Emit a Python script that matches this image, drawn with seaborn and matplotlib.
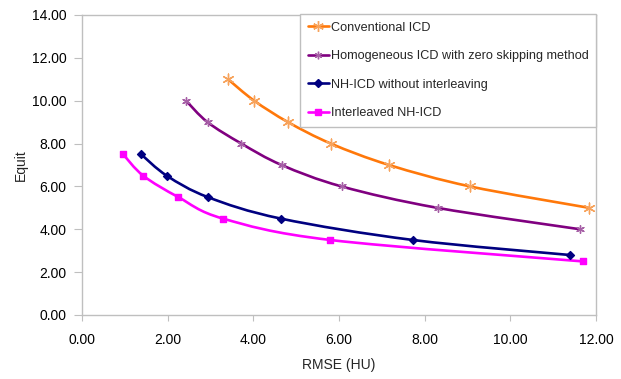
import numpy as np
import pandas as pd
import matplotlib
matplotlib.use("Agg")
import matplotlib.pyplot as plt
import seaborn as sns
from matplotlib.path import Path
from matplotlib.patches import PathPatch
from matplotlib.lines import Line2D

# values
conv_x = [3.41, 4.02, 4.81, 5.81, 7.17, 9.06, 11.84]
conv_y = [11.0, 10.0, 9.0, 8.0, 7.0, 6.0, 5.0]
homo_x = [2.43, 2.93, 3.72, 4.66, 6.06, 8.30, 11.63]
homo_y = [10.0, 9.0, 8.0, 7.0, 6.0, 5.0, 4.0]
nh_x = [1.38, 1.98, 2.94, 4.64, 7.73, 11.39]
nh_y = [7.5, 6.5, 5.5, 4.5, 3.5, 2.8]
inter_x = [0.96, 1.43, 2.25, 3.29, 5.80, 11.70]
inter_y = [7.5, 6.5, 5.5, 4.5, 3.5, 2.5]

names = ["Conventional ICD", "Homogeneous ICD with zero skipping method",
         "NH-ICD without interleaving", "Interleaved NH-ICD"]
xs = [conv_x, homo_x, nh_x, inter_x]
ys = [conv_y, homo_y, nh_y, inter_y]
line_colors = ["#FF780A", "#800080", "#000080", "#FF00FF"]
marker_colors = ["#F7A35C", "#A65FA6", "#000080", "#FF00FF"]
markers = [(6, 2, 0), (6, 2, 0), "D", "s"]
msizes = [60, 30, 16, 24]

sns.set_theme(style="white")
plt.rcParams["font.family"] = ["Liberation Sans", "DejaVu Sans"]

fig = plt.figure(figsize=(6.21, 3.79), dpi=100)
ax = fig.add_axes([82 / 621, 1 - 315 / 379, (596 - 82) / 621, 300 / 379])


def smooth_path(px, py):
    # excel style smoothed line (catmull-rom as cubic bezier)
    p = np.column_stack([px, py])
    pts = np.vstack([p[0], p, p[-1]])
    verts = [tuple(p[0])]
    codes = [Path.MOVETO]
    for i in range(1, len(pts) - 2):
        c1 = pts[i] + (pts[i + 1] - pts[i - 1]) / 6
        c2 = pts[i + 1] - (pts[i + 2] - pts[i]) / 6
        verts += [tuple(c1), tuple(c2), tuple(pts[i + 1])]
        codes += [Path.CURVE4] * 3
    return Path(verts, codes)


handles = []
for name, x, y, lc, mc, m, s in zip(names, xs, ys, line_colors, marker_colors, markers, msizes):
    ax.add_patch(PathPatch(smooth_path(x, y), fill=False, edgecolor=lc, lw=1.9, zorder=2))
    df = pd.DataFrame({"x": x, "y": y})
    sns.scatterplot(data=df, x="x", y="y", marker=m, s=s, color=mc,
                    edgecolor=mc, linewidth=1.0, ax=ax, zorder=3)
    handles.append(Line2D([], [], color=lc, lw=1.9, marker=m, markersize=np.sqrt(s),
                          markerfacecolor=mc, markeredgecolor=mc, markeredgewidth=1.0))

ax.set_xlim(0, 12)
ax.set_ylim(0, 14)
ax.set_xticks(np.arange(0, 12.1, 2))
ax.set_yticks(np.arange(0, 14.1, 2))
ax.xaxis.set_major_formatter(matplotlib.ticker.FormatStrFormatter("%.2f"))
ax.yaxis.set_major_formatter(matplotlib.ticker.FormatStrFormatter("%.2f"))
ax.tick_params(axis="both", which="major", direction="out", width=0.8,
               color="#BFBFBF", labelsize=10, labelcolor="black", bottom=True, left=True)
ax.tick_params(axis="y", length=6, pad=5)
ax.tick_params(axis="x", length=4, pad=9)
for sp in ax.spines.values():
    sp.set_color("#BFBFBF")
    sp.set_linewidth(1.0)

ax.set_xlabel("RMSE (HU)", fontsize=10, labelpad=8)
ax.set_ylabel("Equit", fontsize=10, labelpad=3)

leg = ax.legend(handles, names, loc="upper right", bbox_to_anchor=(1.0, 1.003),
                fontsize=9.1, frameon=True, fancybox=False, framealpha=1,
                edgecolor="#BFBFBF", handlelength=1.65, handletextpad=0.15,
                labelspacing=1.3, borderpad=0.6, borderaxespad=0)
leg.get_frame().set_linewidth(1.0)

fig.savefig("out.png", dpi=100)
